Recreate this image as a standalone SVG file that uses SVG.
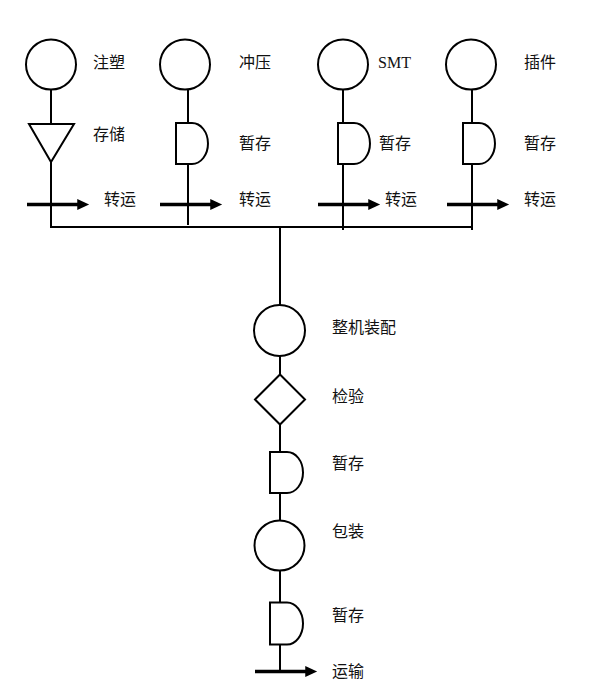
<svg xmlns="http://www.w3.org/2000/svg" width="591" height="700" viewBox="0 0 591 700">
<defs>
<style>
.s{fill:none;stroke:#000;stroke-width:2}
.w{fill:#fff;stroke:#000;stroke-width:2}
.a{stroke:#000;stroke-width:3.5;fill:none}
.t{font-family:"Liberation Serif","Noto Sans CJK SC",serif;font-size:16px;fill:#111;dominant-baseline:central}
</style>
<marker id="ah" markerWidth="4" markerHeight="4" refX="0.5" refY="2" orient="auto" markerUnits="strokeWidth">
<path d="M0,0.4 L3.4,2 L0,3.6 Z" fill="#000"/>
</marker>
</defs>
<rect width="591" height="700" fill="#fff"/>
<g id="connectors">
<line class="s" x1="51" y1="90" x2="51" y2="124"/>
<line class="s" x1="51" y1="162" x2="51" y2="228"/>
<line class="s" x1="188" y1="90" x2="188" y2="123"/>
<line class="s" x1="188" y1="164" x2="188" y2="225"/>
<line class="s" x1="343" y1="90" x2="343" y2="123"/>
<line class="s" x1="343" y1="164" x2="343" y2="230"/>
<line class="s" x1="472" y1="90" x2="472" y2="123"/>
<line class="s" x1="472" y1="164" x2="472" y2="230"/>
<line class="s" x1="50" y1="227" x2="473" y2="227"/>
<line class="s" x1="280" y1="227" x2="280" y2="305"/>
<line class="s" x1="280" y1="356" x2="280" y2="374"/>
<line class="s" x1="280" y1="424" x2="280" y2="452"/>
<line class="s" x1="280" y1="493" x2="280" y2="521"/>
<line class="s" x1="280" y1="571" x2="280" y2="602"/>
<line class="s" x1="280" y1="644" x2="280" y2="671"/>
<line class="a" x1="27" y1="204.5" x2="79" y2="204.5" marker-end="url(#ah)"/>
<line class="a" x1="160" y1="204.5" x2="212" y2="204.5" marker-end="url(#ah)"/>
<line class="a" x1="318" y1="204.5" x2="370" y2="204.5" marker-end="url(#ah)"/>
<line class="a" x1="447" y1="204.5" x2="499" y2="204.5" marker-end="url(#ah)"/>
<line class="a" x1="255" y1="671.5" x2="307" y2="671.5" marker-end="url(#ah)"/>
</g>
<g id="n-injection"><circle class="w" cx="51" cy="64.5" r="25"/><text class="t" x="93" y="62">注塑</text></g>
<g id="n-storage"><path class="w" d="M29,124 L74,124 L51,162 Z"/><text class="t" x="93" y="134">存储</text></g>
<g id="n-stamping"><circle class="w" cx="185" cy="64.5" r="25"/><text class="t" x="239" y="62">冲压</text></g>
<g id="n-delay2"><path class="w" d="M176,123 L192,123 A16,20.5 0 0 1 192,164 L176,164 Z"/><text class="t" x="239" y="143">暂存</text></g>
<g id="n-smt"><circle class="w" cx="343" cy="64.5" r="25"/><text class="t" x="378" y="62">SMT</text></g>
<g id="n-delay3"><path class="w" d="M338,123 L354,123 A16,20.5 0 0 1 354,164 L338,164 Z"/><text class="t" x="379" y="143">暂存</text></g>
<g id="n-insert"><circle class="w" cx="471" cy="64.5" r="25"/><text class="t" x="524" y="62">插件</text></g>
<g id="n-delay4"><path class="w" d="M463,123 L479,123 A16,20.5 0 0 1 479,164 L463,164 Z"/><text class="t" x="524" y="143">暂存</text></g>
<g id="l-transport"><text class="t" x="104" y="199">转运</text><text class="t" x="239" y="199">转运</text><text class="t" x="385" y="199">转运</text><text class="t" x="524" y="199">转运</text></g>
<g id="n-assembly"><circle class="w" cx="279.5" cy="330.5" r="25.5"/><text class="t" x="332" y="327">整机装配</text></g>
<g id="n-inspect"><path class="w" d="M280,374.5 L305,399.5 L280,424.5 L255,399.5 Z"/><text class="t" x="332" y="396">检验</text></g>
<g id="n-delay5"><path class="w" d="M270,452 L287,452 A16,20.5 0 0 1 287,493 L270,493 Z"/><text class="t" x="332" y="463">暂存</text></g>
<g id="n-pack"><circle class="w" cx="279.5" cy="545.5" r="25"/><text class="t" x="332" y="531">包装</text></g>
<g id="n-delay6"><path class="w" d="M270,602.5 L287,602.5 A16,21 0 0 1 287,644.5 L270,644.5 Z"/><text class="t" x="332" y="615">暂存</text></g>
<g id="n-ship"><text class="t" x="332" y="671">运输</text></g>
</svg>
